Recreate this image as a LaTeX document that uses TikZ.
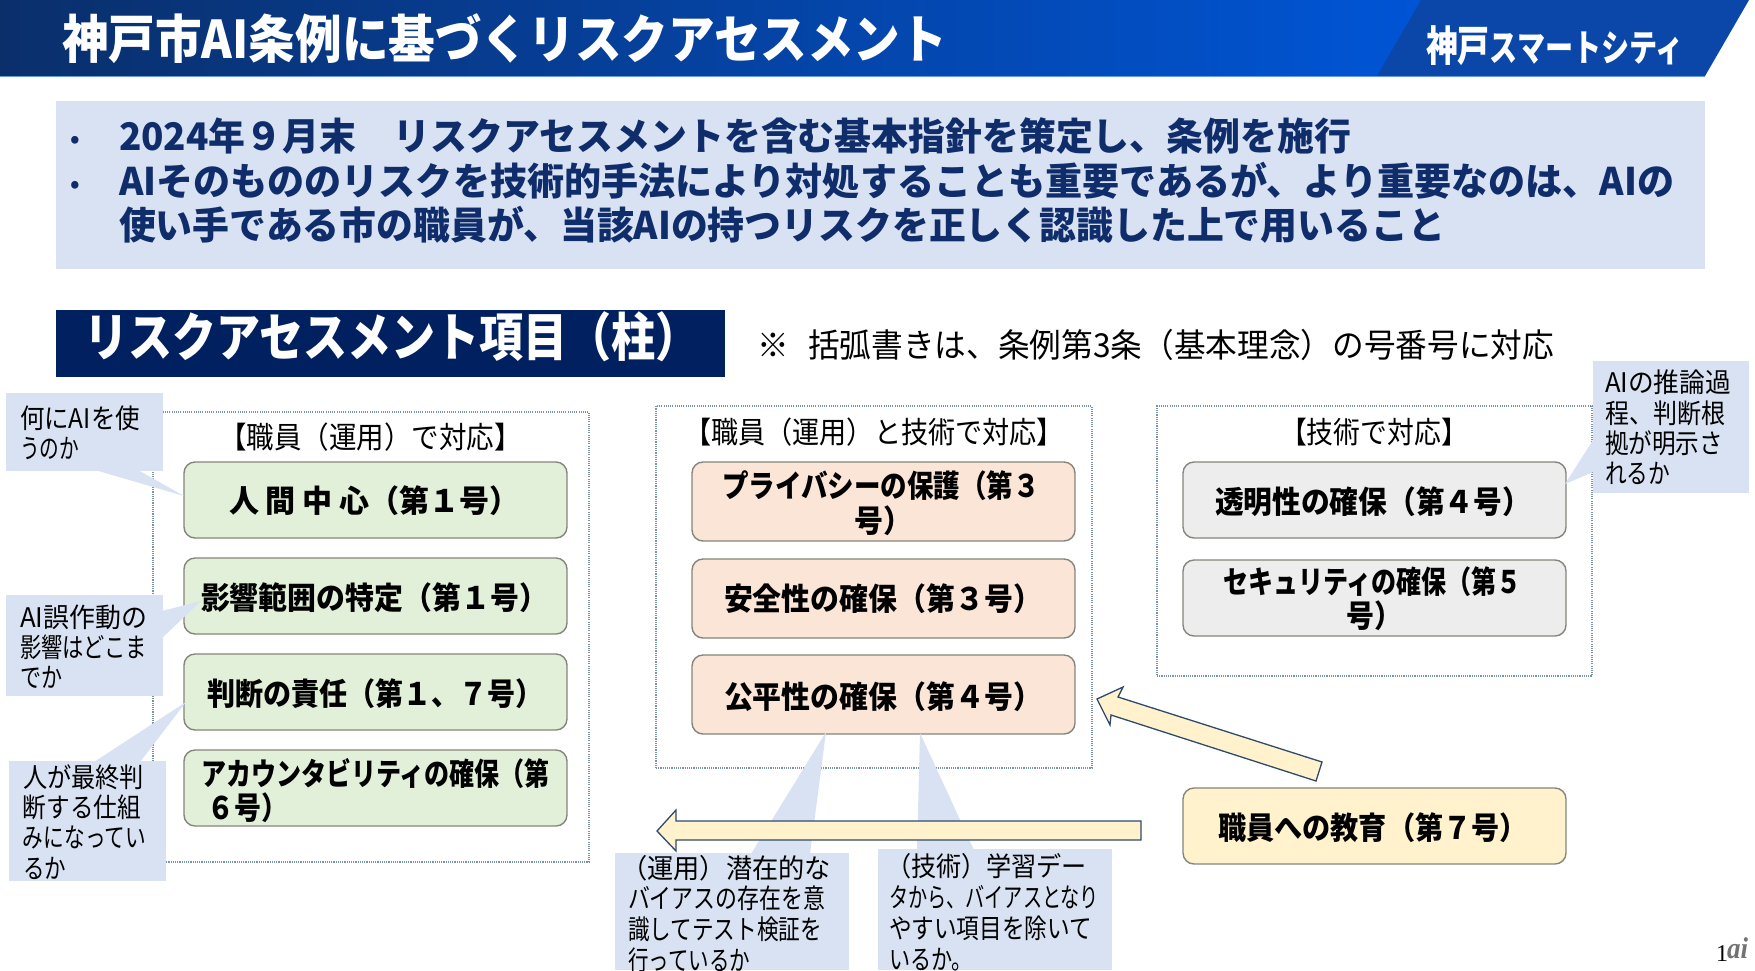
\documentclass[tikz,border=0pt]{standalone}
\usepackage{fontspec}
\usepackage{graphicx}
\setmainfont{Noto Sans CJK JP}
\newfontfamily\serifai{Liberation Serif}
\definecolor{navy}{HTML}{002060}
\definecolor{bluetext}{HTML}{0F2C6B}
\definecolor{panel}{HTML}{D9E2F3}
\definecolor{logoblue}{HTML}{0A47A8}
\definecolor{hdrL}{HTML}{0A2F6B}
\definecolor{hdrR}{HTML}{0055D6}
\definecolor{greenbox}{HTML}{E2F0D9}
\definecolor{pinkbox}{HTML}{FBE5D6}
\definecolor{greybox}{HTML}{EDEDED}
\definecolor{yellowbox}{HTML}{FFF2CC}
\definecolor{boxline}{HTML}{85857C}
\definecolor{frameline}{HTML}{7C92A8}
\definecolor{arrowline}{HTML}{2F4A6A}
\newcommand\fitw[2]{\resizebox{#1pt}{\height}{#2}}
\newcommand\lab[6]{\node[txt,#2] (#1) at (#3,#4) {\fitw{#5}{#6}};}
\tikzset{
  x=1pt,y=-1pt,
  txt/.style={inner sep=0pt,outer sep=0pt,anchor=base west,text=black},
  titlefont/.style={font=\fontsize{52}{52}\selectfont\bfseries,yshift=-18.5pt},
  bulletfont/.style={font=\fontsize{38}{38}\selectfont\bfseries,text=bluetext,yshift=-14pt},
  bulletmark/.style={font=\fontsize{24}{24}\selectfont\bfseries,text=bluetext,yshift=-9pt},
  boxfont/.style={font=\fontsize{31}{31}\selectfont\bfseries,yshift=-11.5pt},
  headfont/.style={font=\fontsize{30}{30}\selectfont,yshift=-11pt},
  notefont/.style={font=\fontsize{33}{33}\selectfont,yshift=-12pt},
  callfont/.style={font=\fontsize{27}{27}\selectfont,yshift=-10pt},
  whitetext/.style={text=white},
  panelbox/.style={fill=panel,draw=none,inner sep=0pt,outer sep=0pt,anchor=north west},
  itembox/.style={draw=boxline,line width=1.4pt,rounded corners=11pt,inner sep=0pt,outer sep=0pt,anchor=north west},
  framebox/.style={draw=frameline,line width=1.3pt,dash pattern=on 1.1pt off 1.1pt,inner sep=0pt,outer sep=0pt,anchor=north west},
  tail/.style={fill=panel,draw=none},
  blockarrow/.style={fill=yellowbox,draw=arrowline,line width=1.3pt,line join=miter},
}
\newcommand\bx[7]{\node[#2,minimum width=#5pt,minimum height=#6pt,#7] (#1) at (#3,#4) {};}
\begin{document}
\begin{tikzpicture}
\useasboundingbox (0,0) rectangle (1755,970);
\fill[white] (0,0) rectangle (1755,970);
% header
\fill[left color=hdrL,right color=hdrR] (0,0) rectangle (1425,76);
\fill[logoblue] (1421,0) -- (1749,0) -- (1705,76) -- (1377,76) -- cycle;
\draw[color=hdrR!60!white,line width=.8pt] (0,76.5) -- (1705,76.5);
\lab{title}{titlefont,whitetext}{62}{40}{885}{神戸市AI条例に基づくリスクアセスメント}
\node[txt,whitetext,font=\fontsize{42}{42}\selectfont\bfseries,yshift=-15pt] (logo) at (1426,46) {\fitw{258}{神戸{\fontsize{37}{37}\selectfont スマートシティ}}};
% bullets panel
\bx{bpanel}{panelbox}{56}{101}{1649}{168}{}
\node[txt,bulletmark] (b1) at (70,138) {•};
\node[txt,bulletmark] (b2) at (70,183) {•};
\lab{l1}{bulletfont}{119}{136}{1232}{2024年９月末　リスクアセスメントを含む基本指針を策定し、条例を施行}
\lab{l2}{bulletfont}{119}{181}{1555}{AIそのもののリスクを技術的手法により対処することも重要であるが、より重要なのは、AIの}
\lab{l3}{bulletfont}{119}{225}{1326}{使い手である市の職員が、当該AIの持つリスクを正しく認識した上で用いること}
% section heading
\bx{sect}{panelbox,fill=navy}{56}{310}{669}{67}{}
\lab{secttext}{titlefont,whitetext}{84}{338}{616}{リスクアセスメント項目（柱）}
\lab{note}{notefont}{757}{345}{797}{※\hspace{.62em}括弧書きは、条例第3条（基本理念）の号番号に対応}
% frames
\bx{fL}{framebox}{153}{412}{436}{450}{}
\bx{fM}{framebox}{656}{406}{436}{362}{}
\bx{fR}{framebox}{1157}{406}{435}{270}{}
\lab{hL}{headfont}{219}{437}{303}{【職員（運用）で対応】}
\lab{hM}{headfont}{684}{432}{380}{【職員（運用）と技術で対応】}
\lab{hR}{headfont}{1280}{432}{188}{【技術で対応】}
% boxes
\bx{g1}{itembox,fill=greenbox}{184}{462}{383}{76}{}
\bx{g2}{itembox,fill=greenbox}{184}{558}{383}{76}{}
\bx{g3}{itembox,fill=greenbox}{184}{654}{383}{76}{}
\bx{g4}{itembox,fill=greenbox}{184}{750}{383}{76}{}
\bx{p1}{itembox,fill=pinkbox}{692}{462}{383}{79}{}
\bx{p2}{itembox,fill=pinkbox}{692}{559}{383}{79}{}
\bx{p3}{itembox,fill=pinkbox}{692}{655}{383}{79}{}
\bx{k1}{itembox,fill=greybox}{1183}{462}{383}{76}{}
\bx{k2}{itembox,fill=greybox}{1183}{560}{383}{76}{}
\bx{y1}{itembox,fill=yellowbox}{1183}{788}{383}{76}{}
% callouts
\bx{c1}{panelbox}{6}{393}{157}{78}{}
\bx{c2}{panelbox}{6}{595}{157}{101}{}
\bx{c3}{panelbox}{9}{761}{157}{120}{}
\bx{c4}{panelbox}{615}{853}{234}{117}{}
\bx{c5}{panelbox}{878}{849}{234}{121}{}
\bx{c6}{panelbox}{1592.5}{361}{156.5}{132}{}
\coordinate (t1) at (184,496);
\coordinate (t2) at (201,601);
\coordinate (t3) at (186,702);
\coordinate (t4) at (826,732);
\coordinate (t5) at (920,733);
\coordinate (t6) at (1565,484);
\fill[tail] (95,470) -- (t1) -- (138,470) -- cycle;
\fill[tail] (162,611) -- (t2) -- (162,638) -- cycle;
\fill[tail] (94,762) -- (t3) -- (140,762) -- cycle;
\fill[tail] (751,854) -- (t4) -- (810,854) -- cycle;
\fill[tail] (917,850) -- (t5) -- (974,850) -- cycle;
\fill[tail] (1593,440) -- (t6) -- (1593,472) -- cycle;
% block arrows
\coordinate (a1tip) at (657,831);
\draw[blockarrow] (1141,821) -- (676,821) -- (676,810) -- (a1tip) -- (676,851) -- (676,840) -- (1141,840) -- cycle;
\coordinate (a2tip) at (1097,699);
\draw[blockarrow] (1322,762) -- (1118,697) -- (1123,687) -- (a2tip) -- (1110,725) -- (1111,715) -- (1316,781) -- cycle;
% box texts
\lab{g1t}{boxfont}{229}{501}{291}{人 間 中 心（第１号）}
\lab{g2t}{boxfont}{201}{598}{347}{影響範囲の特定（第１号）}
\lab{g3t}{boxfont}{207}{694}{337}{判断の責任（第１、７号）}
\lab{g4a}{boxfont}{201}{774}{349}{アカウンタビリティの確保（第}
\lab{g4b}{boxfont}{207}{808}{81}{６号）}
\lab{p1a}{boxfont}{722}{486}{318}{プライバシーの保護（第３}
\lab{p1b}{boxfont}{854}{521}{58}{号）}
\lab{p2t}{boxfont}{724}{599}{318}{安全性の確保（第３号）}
\lab{p3t}{boxfont}{724}{697}{318}{公平性の確保（第４号）}
\lab{k1t}{boxfont}{1215}{502}{316}{透明性の確保（第４号）}
\lab{k2a}{boxfont}{1223}{582}{299}{セキュリティの確保（第５}
\lab{k2b}{boxfont}{1346}{616}{56}{号）}
\lab{y1t}{boxfont}{1218}{828}{310}{職員への教育（第７号）}
% callout texts
\lab{c1a}{callfont}{20}{418}{120}{何にAIを使}
\lab{c1b}{callfont}{20}{448}{59}{うのか}
\lab{c2a}{callfont}{20}{617}{127}{AI誤作動の}
\lab{c2b}{callfont}{20}{647}{127}{影響はどこま}
\lab{c2c}{callfont}{20}{677}{42}{でか}
\lab{c3a}{callfont}{23}{777}{121}{人が最終判}
\lab{c3b}{callfont}{23}{807}{118}{断する仕組}
\lab{c3c}{callfont}{23}{837}{123}{みになってい}
\lab{c3d}{callfont}{23}{868}{43}{るか}
\lab{c4a}{callfont}{621}{868}{210}{（運用）潜在的な}
\lab{c4b}{callfont}{628}{898}{197}{バイアスの存在を意}
\lab{c4c}{callfont}{628}{929}{194}{識してテスト検証を}
\lab{c4d}{callfont}{628}{960}{122}{行っているか}
\lab{c5a}{callfont}{886}{866}{201}{（技術）学習デー}
\lab{c5b}{callfont}{889}{897}{210}{タから、バイアスとなり}
\lab{c5c}{callfont}{889}{928}{203}{やすい項目を除いて}
\lab{c5d}{callfont}{889}{959}{84}{いるか。}
\lab{c6a}{callfont}{1605}{382}{126}{AIの推論過}
\lab{c6b}{callfont}{1605}{413}{120}{程、判断根}
\lab{c6c}{callfont}{1605}{443}{118}{拠が明示さ}
\lab{c6d}{callfont}{1605}{473}{65}{れるか}
% page number
\node[txt,font=\serifai\fontsize{24}{24}\selectfont] (pg) at (1716,961) {1};
\node[txt,font=\serifai\fontsize{30}{30}\selectfont\itshape\bfseries,text=black!55] (ai) at (1727,958) {\fitw{21}{ai}};
\end{tikzpicture}
\end{document}
